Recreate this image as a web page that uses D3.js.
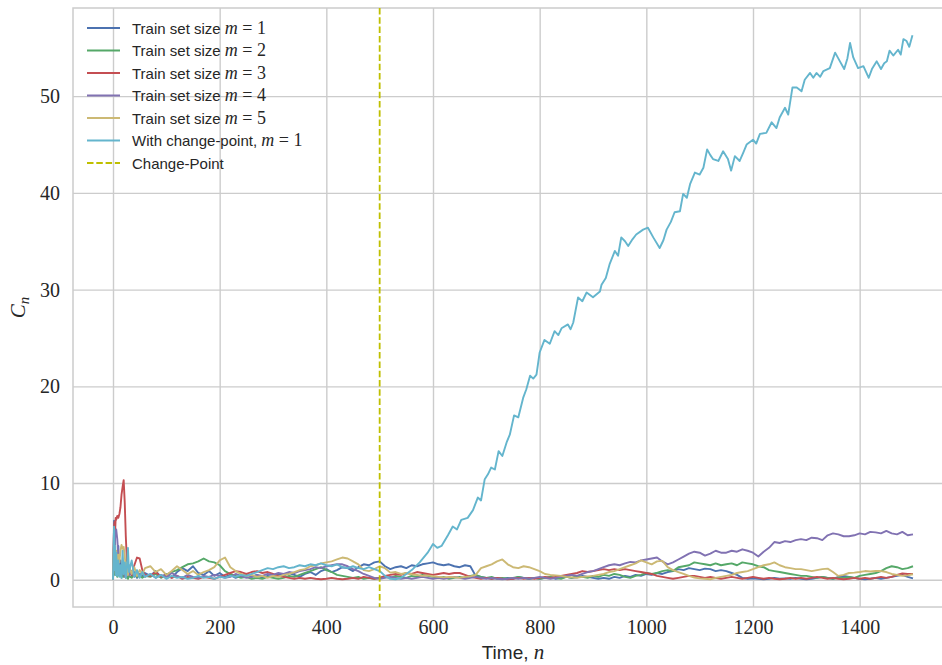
<!DOCTYPE html>
<html><head><meta charset="utf-8">
<script src="https://cdn.jsdelivr.net/npm/d3@7"></script>
<style>body{margin:0;background:#fff;} svg{display:block;}</style>
</head><body>
<svg id="chart" width="942" height="665"></svg>
<script>
// ---------- DATA ----------
const earlyTimes = [0,1,2,3,4,5,6,8,10,12,14,16,18,20,22,24,26,28,30,35,40,45,50,55,60];
const gridTimes = earlyTimes.concat(d3.range(70, 1501, 10));

const seriesNames = ["Train set size", "Train set size", "Train set size", "Train set size", "Train set size", "With change-point,"];
const seriesM = ["1", "2", "3", "4", "5", "1"];
const seriesColors = ["#4C72B0", "#55A868", "#C44E52", "#8172B2", "#CCB974", "#64B5CD"];
const changePoint = 500;
const xTicks = [0, 200, 400, 600, 800, 1000, 1200, 1400];
const yTicks = [0, 10, 20, 30, 40, 50];

const m1 = [0,2.5,6.1,5.8,3.0,1.2,2.8,1.0,3.5,0.8,2.0,0.4,1.5,0.6,1.2,0.3,0.9,0.2,1.1,0.4,0.8,0.2,0.6,0.3,0.7,
 0.4,0.9,0.3,0.6,0.2,0.8,1.2,0.9,1.4,0.7,0.5,0.9,0.4,0.7,0.3,0.5,0.2,0.4,0.6,0.3,0.5,0.2,0.4,0.3,0.6,0.4,0.7,0.5,0.3,0.6,0.8,0.5,0.9,1.1,0.8,1.0,1.3,1.2,0.9,1.3,1.6,1.5,1.8,
 1.9,1.4,1.1,1.3,1.4,1.2,1.5,1.4,1.6,1.7,1.8,1.6,1.5,1.6,1.4,1.3,1.5,1.4,0.4,0.3,0.2,0.1,0.2,0.1,0.2,0.1,0.3,0.2,0.1,0.2,0.1,0.2,0.3,0.1,0.2,0.3,0.2,0.25,0.4,0.3,0.2,0.1,0.2,0.1,0.3,0.2,0.4,0.3,0.5,0.4,0.6,0.5,0.7,0.6,0.8,0.9,1.1,1.0,1.2,1.1,1.0,1.15,1.1,0.9,1.0,0.9,0.7,0.5,0.2,0.1,0.15,0.1,0.05,0.1,0.2,0.1,0.15,0.1,0.2,0.1,0.05,0.1,0.2,0.3,0.2,0.1,0.3,0.4,0.3,0.2,0.1,0.05,0.1,0.2,0.1,0.2,0.3,0.4,0.5,0.3,0.15];

const m2 = [0,1.5,3.0,1.2,0.5,2.0,0.8,0.3,1.2,0.4,0.9,0.2,0.6,0.3,0.8,0.2,0.5,0.1,0.4,0.2,0.6,0.3,0.5,0.2,0.4,
 0.3,0.6,0.2,0.5,0.8,1.0,1.3,1.6,1.7,1.9,2.2,1.9,1.8,1.5,0.9,0.6,0.4,0.2,0.3,0.1,0.2,0.1,0.3,0.2,0.1,0.2,0.4,0.3,0.5,0.7,0.9,1.1,1.3,1.0,0.8,0.5,0.4,0.3,0.2,0.3,0.1,0.2,0.1,
 0.2,0.3,0.2,0.4,0.3,0.2,0.4,0.3,0.5,0.4,0.3,0.2,0.3,0.1,0.2,0.3,0.2,0.4,0.5,0.3,0.2,0.3,0.1,0.2,0.1,0.2,0.3,0.2,0.1,0.2,0.1,0.2,0.3,0.2,0.1,0.3,0.2,0.4,0.3,0.2,0.4,0.3,0.5,0.4,0.6,0.5,0.3,0.2,0.4,0.5,0.7,0.6,0.7,0.9,1.0,0.9,1.3,1.4,1.5,1.8,1.7,1.6,1.5,1.7,1.5,1.6,1.7,1.5,1.8,1.7,1.6,1.4,1.3,1.0,0.9,0.8,0.7,0.6,0.5,0.4,0.4,0.3,0.2,0.3,0.2,0.1,0.2,0.2,0.3,0.2,0.4,0.5,0.6,0.7,0.9,1.2,1.4,1.3,1.1,1.2,1.4];

const m3 = [0,3.0,5.5,6.0,5.0,6.4,6.2,6.6,6.4,6.8,7.5,8.8,9.6,10.3,8.0,4.5,2.0,0.8,1.2,0.5,1.5,2.3,2.2,1.0,0.5,
 0.4,0.8,0.3,0.5,0.2,0.4,0.1,0.3,0.2,0.1,0.3,0.2,0.1,0.3,0.5,0.7,0.9,0.8,0.6,0.8,0.9,0.7,0.8,0.6,0.4,0.3,0.2,0.1,0.2,0.1,0.2,0.1,0.05,0.1,0.2,0.1,0.05,0.1,0.2,0.1,0.3,0.2,0.1,
 0.2,0.4,0.5,0.6,0.5,0.7,0.6,0.8,0.7,0.6,0.5,0.6,0.7,0.6,0.7,0.7,0.5,0.3,0.2,0.1,0.2,0.1,0.2,0.1,0.05,0.1,0.2,0.1,0.2,0.1,0.2,0.3,0.2,0.3,0.4,0.5,0.6,0.7,0.9,0.8,0.9,1.0,1.1,1.0,1.1,1.0,1.1,1.0,0.9,0.8,0.7,0.6,0.4,0.3,0.2,0.1,0.2,0.3,0.4,0.4,0.3,0.2,0.3,0.2,0.1,0.2,0.3,0.2,0.1,0.2,0.3,0.2,0.1,0.2,0.1,0.05,0.1,0.2,0.1,0.2,0.1,0.2,0.3,0.2,0.1,0.2,0.1,0.05,0.1,0.2,0.1,0.2,0.1,0.2,0.3,0.2,0.3,0.5,0.65,0.6,0.6];

const m4 = [0,2.0,4.0,3.0,4.5,5.0,5.2,4.2,2.5,1.0,0.5,1.4,0.6,1.0,0.3,0.8,0.4,0.9,0.5,0.9,0.3,0.7,0.4,0.8,0.3,
 0.6,0.2,0.5,0.3,0.7,0.4,0.2,0.5,0.3,0.2,0.4,0.3,0.5,0.4,0.2,0.3,0.6,0.4,0.2,0.3,0.5,0.4,0.6,0.5,0.7,0.6,0.8,0.7,0.9,1.0,1.1,1.3,1.2,1.4,1.5,1.6,1.6,1.4,1.1,0.9,0.6,0.4,0.2,
 0.1,0.2,0.3,0.2,0.1,0.2,0.1,0.2,0.3,0.2,0.1,0.2,0.1,0.2,0.3,0.2,0.1,0.2,0.3,0.2,0.1,0.2,0.1,0.05,0.1,0.2,0.1,0.2,0.1,0.2,0.3,0.2,0.1,0.2,0.3,0.4,0.5,0.4,0.6,0.8,0.9,1.1,1.3,1.5,1.6,1.5,1.7,1.85,1.8,2.0,2.1,2.2,2.3,1.9,1.6,1.8,2.1,2.4,2.7,2.9,2.8,2.5,2.7,3.0,2.8,2.8,3.0,2.9,3.15,3.0,2.8,2.4,2.9,3.3,3.9,3.8,4.0,3.9,4.1,4.2,4.1,4.35,4.3,4.1,4.6,4.8,4.7,4.5,4.5,4.6,4.8,4.7,4.95,4.9,4.8,5.05,4.8,4.7,4.95,4.6,4.7];

const m5 = [0,2.5,4.0,2.0,3.5,1.5,3.0,1.2,2.6,1.8,3.0,3.6,3.2,3.4,2.5,1.0,1.8,0.5,1.5,0.6,1.3,0.4,1.0,0.6,1.2,
 1.4,0.8,1.1,0.5,0.9,1.4,1.0,0.6,0.9,0.5,0.8,1.0,1.3,2.0,2.3,1.3,0.9,0.6,0.4,0.5,0.3,0.4,0.2,0.4,0.3,0.5,0.6,0.8,1.0,1.1,1.4,1.5,1.7,1.8,1.9,2.1,2.3,2.2,1.9,1.6,1.0,0.9,1.1,
 1.4,1.2,0.74,0.8,0.6,0.7,0.57,0.5,0.4,0.45,0.36,0.3,0.25,0.3,0.26,0.2,0.3,0.35,0.5,1.2,1.4,1.6,1.9,2.1,1.6,1.3,1.2,1.4,1.3,1.1,0.9,0.6,0.5,0.45,0.4,0.3,0.25,0.2,0.3,0.35,0.4,0.5,0.6,0.8,0.9,1.1,1.3,1.5,1.7,2.0,1.8,1.6,1.9,1.95,1.3,1.0,0.8,0.6,0.4,0.23,0.15,0.1,0.05,0.2,0.3,0.4,0.5,0.7,0.8,0.9,1.1,1.3,1.5,1.6,1.8,1.5,1.3,1.2,1.1,1.1,1.0,0.9,1.0,1.1,1.15,0.8,0.4,0.5,0.7,0.74,0.8,0.9,0.85,0.9,0.9,0.8,0.6,0.5,0.4,0.45,0.57];

const cpTimes = [0,1,2,3,4,5,6,8,10,12,14,16,18,20,22,24,26,28,30,35,40,45,50,55,60,70,80,90,100,110,120,130,140,150,160,170,180,190,200,210,220,230,240,250,260,270,280,290,300,310,320,330,340,350,360,370,380,390,400,410,420,430,440,450,460,470,480,490,500,510,520,530,540,550,562,575,590,600,608,616,628,637,645,653,665,675,684,690,697,703,709,716,723,730,738,744,752,760,769,775,782,788,794,800,809,819,828,835,841,853,858,863,872,880,888,900,913,916,924,931,941,947,953,960,966,974,981,994,1003,1013,1025,1032,1038,1046,1053,1063,1069,1076,1082,1091,1100,1107,1114,1120,1125,1135,1144,1153,1159,1166,1175,1182,1188,1200,1206,1213,1225,1235,1244,1250,1260,1266,1274,1282,1291,1297,1307,1313,1319,1326,1332,1344,1354,1363,1371,1377,1382,1388,1397,1407,1417,1423,1432,1440,1446,1451,1456,1463,1472,1477,1482,1488,1493,1499];
const cpValues = [0,2.5,5.5,1.0,3.5,0.5,2.8,0.4,2.0,0.3,1.5,0.2,3.0,0.6,1.8,0.2,1.2,3.3,0.8,2.0,0.3,1.0,0.2,0.8,0.3,0.6,0.2,0.5,0.1,0.4,0.2,0.3,0.1,0.2,0.4,0.2,0.3,0.1,0.3,0.2,0.4,0.3,0.5,0.4,0.6,0.8,1.0,1.2,1.1,1.3,1.4,1.2,1.3,1.5,1.4,1.6,1.5,1.7,1.5,1.4,1.6,1.3,1.2,1.4,1.2,1.1,1.3,1.1,0.9,0.4,0.1,0.05,0.2,0.6,1.1,1.8,2.8,3.7,3.3,3.5,4.6,5.5,5.2,6.2,6.4,7.2,8.5,8.2,10.4,10.9,11.6,11.4,13.3,12.8,14.2,15.0,17.0,16.8,18.8,19.7,21.1,20.8,21.2,23.5,24.8,24.4,25.7,25.3,26.0,26.4,25.9,26.6,29.2,28.8,29.7,29.2,29.8,30.5,31.2,32.6,34.0,33.5,35.4,35.0,34.5,35.2,35.7,36.2,36.4,35.4,34.3,35.1,36.2,37.0,38.0,38.1,39.9,39.5,40.9,42.1,41.9,42.6,44.5,43.9,43.5,43.3,44.3,43.5,42.3,43.8,43.3,44.2,45.0,45.5,45.1,46.1,46.2,47.3,46.7,47.8,48.8,48.1,50.9,50.9,50.5,51.7,52.4,51.9,52.4,52.0,52.6,52.9,54.5,53.6,52.8,53.9,55.5,54.0,52.9,53.1,51.9,52.8,53.6,52.8,53.4,53.6,54.7,54.2,54.8,54.3,55.9,55.7,55.1,56.3];

const smallSeries = [m1, m2, m3, m4, m5];

// ---------- LAYOUT ----------
const svg = d3.select("#chart");
const L = 73, R = 953, T = 8, B = 607;
const x = d3.scaleLinear().domain([-75, 1575]).range([L, R]);
const allVals = smallSeries.flat().concat(cpValues);
const yMin = d3.min(allVals), yMax = d3.max(allVals), pad = (yMax - yMin) * 0.05;
const y = d3.scaleLinear().domain([yMin - pad, yMax + pad]).range([B, T]);

svg.append("defs").append("clipPath").attr("id", "clip")
  .append("rect").attr("x", L).attr("y", T).attr("width", R - L).attr("height", B - T);

// grid
const gx = svg.append("g").attr("transform", `translate(0,${B})`)
  .call(d3.axisBottom(x).tickValues(xTicks).tickSize(-(B - T)).tickPadding(13).tickFormat(d3.format("d")));
const gy = svg.append("g").attr("transform", `translate(${L},0)`)
  .call(d3.axisLeft(y).tickValues(yTicks).tickSize(-(R - L)).tickPadding(13).tickFormat(d3.format("d")));
[gx, gy].forEach(g => {
  g.select(".domain").remove();
  g.selectAll(".tick line").attr("stroke", "#cccccc").attr("stroke-width", 1.4);
  g.selectAll(".tick text").attr("font-family", "'Liberation Serif', 'DejaVu Serif', serif")
    .attr("font-size", 20).attr("fill", "#262626");
});
gy.selectAll(".tick text").attr("dy", "0.33em");

// spines
svg.append("rect").attr("x", L).attr("y", T).attr("width", R - L).attr("height", B - T)
  .attr("fill", "none").attr("stroke", "#cccccc").attr("stroke-width", 1.5);

// lines
const plot = svg.append("g").attr("clip-path", "url(#clip)");
const line = d3.line().x(d => x(d[0])).y(d => y(d[1]));
smallSeries.forEach((vals, i) => {
  plot.append("path").datum(gridTimes.map((t, k) => [t, vals[k]]))
    .attr("d", line).attr("fill", "none").attr("stroke", seriesColors[i])
    .attr("stroke-width", 1.9).attr("stroke-linejoin", "round");
});
plot.append("path").datum(cpTimes.map((t, k) => [t, cpValues[k]]))
  .attr("d", line).attr("fill", "none").attr("stroke", seriesColors[5])
  .attr("stroke-width", 1.9).attr("stroke-linejoin", "round");

// change point
plot.append("line").attr("x1", x(changePoint)).attr("x2", x(changePoint))
  .attr("y1", T).attr("y2", B).attr("stroke", "#BFBF00").attr("stroke-width", 1.8)
  .attr("stroke-dasharray", "6.5,2.8");

// legend
const leg = svg.append("g");
const legItems = seriesNames.map((n, i) => ({name: n, m: seriesM[i], color: seriesColors[i], dash: null}))
  .concat([{name: "Change-Point", m: null, color: "#BFBF00", dash: "6.5,2.8"}]);
legItems.forEach((d, i) => {
  const yy = 28 + i * 22.5;
  leg.append("line").attr("x1", 87).attr("x2", 120).attr("y1", yy).attr("y2", yy)
    .attr("stroke", d.color).attr("stroke-width", 1.9).attr("stroke-dasharray", d.dash);
  const t = leg.append("text").attr("x", 132).attr("y", yy + 5.5)
    .attr("font-family", "'Liberation Sans', Arial, sans-serif").attr("font-size", 15).attr("fill", "#262626");
  t.append("tspan").text(d.name + (d.m ? " " : ""));
  if (d.m) {
    t.append("tspan").attr("font-family", "'Liberation Serif', serif").attr("font-style", "italic").attr("font-size", 18).text("m");
    t.append("tspan").attr("font-family", "'Liberation Serif', serif").attr("font-size", 18).text(" = " + d.m);
  }
});

// axis labels
const xl = svg.append("text").attr("x", (L + R) / 2).attr("y", 659).attr("text-anchor", "middle")
  .attr("font-family", "'Liberation Sans', Arial, sans-serif").attr("font-size", 19).attr("fill", "#262626");
xl.append("tspan").text("Time, ");
xl.append("tspan").attr("font-family", "'Liberation Serif', serif").attr("font-style", "italic").attr("font-size", 21).text("n");

const yl = svg.append("text").attr("transform", `translate(25,${(T + B) / 2}) rotate(-90)`).attr("text-anchor", "middle")
  .attr("font-family", "'Liberation Serif', serif").attr("font-style", "italic").attr("font-size", 21).attr("fill", "#262626");
yl.append("tspan").text("C");
yl.append("tspan").attr("font-size", 15).attr("dy", 4).text("n");
</script>
</body></html>
